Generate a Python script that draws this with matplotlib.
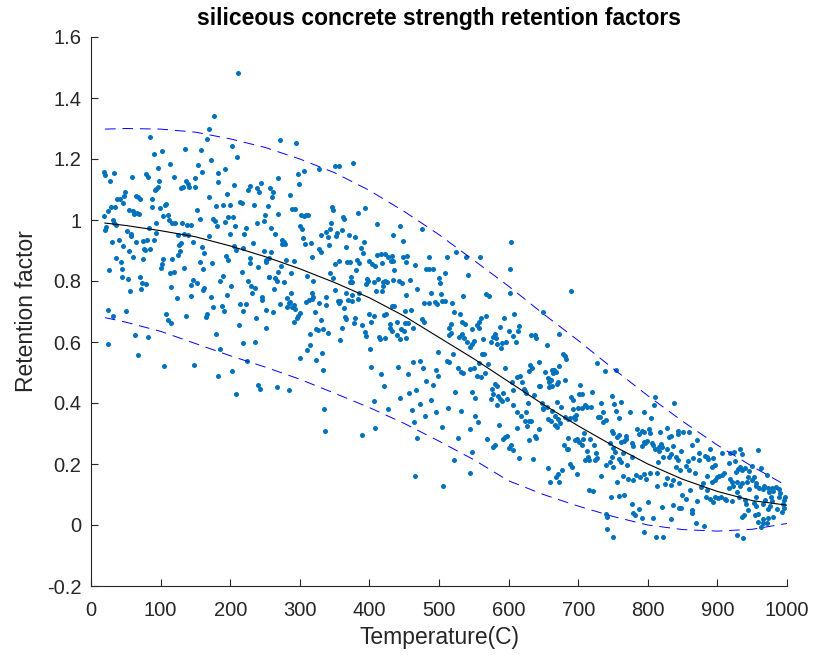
import numpy as np
import matplotlib.pyplot as plt

plt.rcParams['font.family'] = ['Liberation Sans', 'DejaVu Sans']

# measured retention factors (temperature in C, retention factor), grouped by temperature band
pts_a = [(211, 1.481), (177, 1.341), (170, 1.297), (167, 1.267), (85, 1.271), (203, 1.243), (210, 1.208),
         (173, 1.196), (90, 1.216), (102, 1.225), (135, 1.232), (158, 1.231), (113, 1.183), (154, 1.179),
         (96, 1.170), (18, 1.156), (20, 1.148), (33, 1.155), (183, 1.155), (192, 1.166), (160, 1.158),
         (79, 1.150), (82, 1.140), (59, 1.142), (119, 1.142), (27, 1.128), (97, 1.128), (137, 1.128),
         (149, 1.138), (182, 1.125), (206, 1.114), (140, 1.117), (141, 1.109), (129, 1.105), (132, 1.109),
         (150, 1.107), (229, 1.113), (238, 1.106), (244, 1.120), (257, 1.105), (94, 1.102), (96, 1.108),
         (92, 1.098), (49, 1.092), (48, 1.078), (225, 1.097), (241, 1.093), (195, 1.085), (65, 1.079),
         (68, 1.074), (71, 1.068), (38, 1.070), (42, 1.068), (88, 1.068), (169, 1.075), (46, 1.057),
         (108, 1.053), (107, 1.048), (179, 1.047), (190, 1.050), (199, 1.050), (214, 1.058), (217, 1.057),
         (234, 1.048), (255, 1.046), (29, 1.042), (35, 1.042), (25, 1.029), (87, 1.042), (99, 1.038),
         (54, 1.034), (62, 1.021), (66, 1.023), (69, 1.021), (60, 1.029), (152, 1.033), (18, 1.012),
         (103, 1.014), (110, 1.015), (157, 1.004), (175, 1.004), (178, 0.996), (197, 1.011), (204, 1.011),
         (250, 1.015), (31, 0.999), (33, 0.991), (112, 1.000), (117, 0.991), (121, 0.989), (131, 0.990),
         (36, 0.985), (93, 0.991), (138, 0.983), (144, 0.983), (181, 0.981), (193, 0.993), (207, 0.979),
         (222, 0.975), (239, 0.989), (249, 0.996), (22, 0.976), (20, 0.967), (52, 0.964), (57, 0.953),
         (58, 0.948), (83, 0.975), (94, 0.957), (170, 0.948), (200, 0.953), (220, 0.954), (125, 0.952),
         (134, 0.955), (140, 0.951)]

pts_b = [(40, 0.936), (30, 0.927), (46, 0.916), (64, 0.929), (75, 0.932), (81, 0.933), (78, 0.902),
         (76, 0.905), (85, 0.905), (91, 0.934), (130, 0.926), (127, 0.917), (128, 0.898), (125, 0.885),
         (147, 0.927), (159, 0.911), (163, 0.891), (205, 0.916), (208, 0.902), (218, 0.908), (233, 0.925),
         (248, 0.899), (252, 0.869), (251, 0.863), (256, 0.876), (36, 0.876), (60, 0.878), (43, 0.863),
         (54, 0.899), (74, 0.872), (104, 0.872), (102, 0.857), (101, 0.844), (116, 0.871), (156, 0.863),
         (174, 0.858), (194, 0.881), (197, 0.870), (228, 0.875), (229, 0.858), (240, 0.845), (26, 0.836),
         (44, 0.839), (114, 0.827), (119, 0.828), (133, 0.843), (161, 0.840), (217, 0.828), (45, 0.813),
         (53, 0.808), (70, 0.814), (73, 0.794), (79, 0.789), (72, 0.774), (56, 0.767), (115, 0.781),
         (146, 0.802), (143, 0.788), (152, 0.793), (162, 0.778), (161, 0.771), (186, 0.800), (189, 0.816),
         (201, 0.783), (226, 0.799), (230, 0.785), (236, 0.776), (232, 0.762), (256, 0.812), (124, 0.745),
         (144, 0.750), (172, 0.749), (196, 0.753), (245, 0.749), (246, 0.738), (175, 0.715), (188, 0.717),
         (191, 0.701), (214, 0.724), (223, 0.724), (219, 0.703), (252, 0.705), (24, 0.704), (50, 0.701),
         (32, 0.686), (108, 0.693), (111, 0.672), (115, 0.661), (136, 0.685), (166, 0.692), (165, 0.681),
         (237, 0.679), (212, 0.657), (251, 0.645), (63, 0.622), (82, 0.615), (180, 0.627), (24, 0.592),
         (219, 0.598), (235, 0.601), (185, 0.577), (67, 0.557), (224, 0.539), (105, 0.522), (148, 0.524),
         (202, 0.504), (183, 0.488), (240, 0.459), (243, 0.446), (209, 0.430)]

pts_c = [(271, 1.261), (295, 1.251), (376, 1.188), (350, 1.177), (356, 1.177), (327, 1.168), (306, 1.160),
         (297, 1.152), (269, 1.138), (262, 1.092), (260, 1.075), (299, 1.118), (286, 1.082), (289, 1.036),
         (293, 1.035), (268, 1.020), (258, 0.975), (264, 0.955), (302, 1.015), (306, 1.013), (309, 1.015),
         (312, 1.017), (301, 0.980), (303, 0.971), (305, 0.942), (346, 1.043), (347, 1.033), (362, 1.009),
         (363, 1.002), (345, 0.989), (343, 0.971), (338, 0.960), (340, 0.943), (331, 0.950), (354, 0.959),
         (352, 0.948), (361, 0.966), (370, 0.950), (380, 0.944), (394, 1.040), (384, 1.024), (411, 0.987),
         (444, 0.979), (434, 0.950), (475, 0.970),
         (335, 0.380), (336, 0.307), (390, 0.296), (408, 0.317), (407, 0.406), (427, 0.380), (461, 0.376),
         (472, 0.398), (464, 0.337), (480, 0.357), (496, 0.371), (468, 0.286), (466, 0.161)]

pts_d = [(275, 0.934), (277, 0.928), (274, 0.921), (279, 0.920), (308, 0.920), (316, 0.924), (342, 0.917),
         (366, 0.913), (388, 0.907), (392, 0.927), (448, 0.931), (328, 0.905), (330, 0.895), (259, 0.895),
         (291, 0.867), (280, 0.870), (317, 0.879), (391, 0.892), (411, 0.884), (417, 0.890), (423, 0.890),
         (427, 0.880), (431, 0.867), (434, 0.866), (433, 0.881), (448, 0.879), (452, 0.862), (454, 0.881),
         (485, 0.879), (382, 0.870), (385, 0.858), (368, 0.861), (372, 0.861), (357, 0.865), (350, 0.855),
         (399, 0.867), (404, 0.857), (408, 0.848), (418, 0.858), (465, 0.852), (481, 0.839), (486, 0.840),
         (492, 0.840), (273, 0.850), (268, 0.830), (264, 0.809), (267, 0.800), (256, 0.812), (277, 0.797),
         (288, 0.826), (311, 0.816), (319, 0.801), (344, 0.827), (348, 0.811), (373, 0.812), (372, 0.797),
         (375, 0.798), (381, 0.837), (397, 0.806), (398, 0.800), (395, 0.791), (406, 0.796), (412, 0.808),
         (419, 0.796), (422, 0.800), (436, 0.835), (426, 0.797), (434, 0.802), (442, 0.800), (447, 0.792),
         (459, 0.803), (500, 0.811), (501, 0.794), (263, 0.775), (287, 0.760), (281, 0.744), (318, 0.760),
         (337, 0.747), (351, 0.770), (367, 0.760), (375, 0.755), (385, 0.762), (409, 0.766), (418, 0.766),
         (419, 0.784), (453, 0.753), (469, 0.773), (489, 0.760), (261, 0.699), (272, 0.726), (281, 0.714),
         (284, 0.727), (286, 0.730), (291, 0.720), (293, 0.707), (289, 0.714), (309, 0.732), (313, 0.738),
         (317, 0.741), (319, 0.749), (327, 0.729), (337, 0.720), (355, 0.734), (358, 0.735), (356, 0.727),
         (364, 0.712), (369, 0.739), (375, 0.735), (383, 0.740), (400, 0.692), (406, 0.685), (421, 0.688),
         (424, 0.693), (432, 0.718), (436, 0.719), (451, 0.701), (460, 0.704), (479, 0.729), (485, 0.727),
         (494, 0.732), (497, 0.726), (300, 0.694), (297, 0.685), (296, 0.680), (292, 0.667), (322, 0.697),
         (330, 0.673), (323, 0.643), (326, 0.638), (333, 0.642), (341, 0.631), (315, 0.626), (365, 0.681),
         (367, 0.674), (360, 0.645), (378, 0.662), (380, 0.680), (389, 0.656), (393, 0.634), (395, 0.621),
         (402, 0.665), (414, 0.617), (415, 0.609), (422, 0.614), (429, 0.659), (429, 0.647), (433, 0.637),
         (439, 0.666), (440, 0.623), (444, 0.610), (449, 0.635), (451, 0.661), (455, 0.663), (453, 0.612),
         (445, 0.643), (463, 0.647), (476, 0.674), (478, 0.667), (358, 0.607), (314, 0.589), (310, 0.573),
         (300, 0.549), (323, 0.541), (332, 0.563), (334, 0.507), (401, 0.577), (403, 0.518), (441, 0.519),
         (416, 0.495), (462, 0.536), (473, 0.539), (477, 0.514), (456, 0.495), (495, 0.507), (499, 0.489),
         (482, 0.473), (492, 0.460), (421, 0.456), (467, 0.442), (457, 0.434), (444, 0.415), (488, 0.410),
         (267, 0.453), (284, 0.444)]

pts_e = [(604, 0.927), (512, 0.879), (524, 0.895), (539, 0.880), (559, 0.879), (602, 0.838), (509, 0.826),
         (541, 0.819), (503, 0.758), (535, 0.752), (567, 0.756), (572, 0.750), (602, 0.761), (689, 0.768),
         (505, 0.735), (508, 0.734), (519, 0.727), (522, 0.698), (530, 0.692), (568, 0.685), (593, 0.678),
         (608, 0.691), (650, 0.699), (561, 0.678)]

pts_f = [(517, 0.659), (514, 0.645), (517, 0.628), (515, 0.623), (533, 0.667), (537, 0.659), (548, 0.643),
         (555, 0.656), (558, 0.667), (557, 0.645), (533, 0.626), (529, 0.615), (536, 0.612), (540, 0.599),
         (547, 0.593), (550, 0.604), (545, 0.585), (563, 0.609), (574, 0.599), (578, 0.617), (581, 0.626),
         (582, 0.612), (587, 0.649), (584, 0.592), (589, 0.581), (591, 0.598), (600, 0.635), (596, 0.599),
         (611, 0.599), (615, 0.653), (614, 0.637), (606, 0.619), (632, 0.623), (638, 0.623), (639, 0.614),
         (672, 0.625), (655, 0.589), (498, 0.566), (520, 0.560), (511, 0.538), (514, 0.535), (528, 0.514),
         (531, 0.503), (535, 0.499), (544, 0.510), (550, 0.516), (558, 0.530), (564, 0.560), (562, 0.561),
         (571, 0.527), (566, 0.499), (561, 0.486), (554, 0.489), (595, 0.515), (605, 0.469), (612, 0.484),
         (619, 0.468), (617, 0.489), (631, 0.525), (633, 0.514), (629, 0.506), (643, 0.535), (652, 0.501),
         (656, 0.483), (662, 0.508), (664, 0.497), (665, 0.508), (658, 0.470), (658, 0.452), (661, 0.474),
         (662, 0.457), (668, 0.501), (670, 0.461), (671, 0.470), (681, 0.475), (678, 0.560), (681, 0.554),
         (683, 0.544), (673, 0.522), (727, 0.531), (738, 0.506), (523, 0.437), (547, 0.435), (552, 0.418),
         (575, 0.412), (578, 0.430), (585, 0.422), (592, 0.433), (591, 0.407), (588, 0.414), (584, 0.393),
         (598, 0.414), (576, 0.445), (583, 0.457), (580, 0.462), (606, 0.444), (622, 0.447), (623, 0.440),
         (625, 0.434), (628, 0.401), (637, 0.426), (643, 0.457), (645, 0.456), (648, 0.399), (650, 0.384),
         (655, 0.388), (649, 0.379), (670, 0.404), (675, 0.386), (663, 0.375), (666, 0.358), (657, 0.348),
         (661, 0.342), (671, 0.349), (681, 0.353), (674, 0.333), (669, 0.320), (666, 0.329), (685, 0.348),
         (689, 0.419), (693, 0.410), (701, 0.431), (705, 0.431), (702, 0.460), (692, 0.380), (688, 0.352),
         (694, 0.355), (697, 0.362), (695, 0.348), (700, 0.385), (705, 0.383), (720, 0.435), (710, 0.392),
         (712, 0.386), (718, 0.386), (728, 0.353), (732, 0.355), (736, 0.339), (740, 0.344), (733, 0.400),
         (736, 0.371), (709, 0.301), (707, 0.283), (717, 0.281), (705, 0.262), (698, 0.282), (695, 0.279),
         (701, 0.272), (685, 0.286), (686, 0.248), (680, 0.262), (684, 0.249), (712, 0.243), (714, 0.224),
         (710, 0.213), (715, 0.213), (723, 0.262), (725, 0.237), (727, 0.221), (724, 0.213), (740, 0.197),
         (733, 0.160), (688, 0.199), (691, 0.190), (677, 0.180), (698, 0.168), (668, 0.158), (671, 0.167),
         (656, 0.188), (660, 0.141), (673, 0.141), (716, 0.115), (721, 0.112), (635, 0.216), (615, 0.220),
         (630, 0.278), (638, 0.293), (640, 0.285), (643, 0.315), (627, 0.326), (623, 0.340), (629, 0.342),
         (632, 0.342), (618, 0.356), (625, 0.370), (612, 0.319), (606, 0.394), (600, 0.252), (603, 0.263),
         (607, 0.247), (592, 0.283), (595, 0.288), (598, 0.292), (578, 0.255), (581, 0.262), (586, 0.327),
         (569, 0.283), (612, 0.371), (548, 0.240), (552, 0.358), (556, 0.338), (544, 0.315), (527, 0.284),
         (532, 0.375), (513, 0.384), (505, 0.322), (522, 0.213), (545, 0.170), (506, 0.128)]

pts_g = [(754, 0.507), (748, 0.423), (811, 0.420), (752, 0.397), (761, 0.402), (838, 0.401), (809, 0.393),
         (755, 0.373), (774, 0.370), (795, 0.370), (759, 0.350), (804, 0.352), (749, 0.309), (750, 0.301),
         (758, 0.296), (756, 0.290), (768, 0.293), (769, 0.281), (766, 0.274), (785, 0.316), (788, 0.298),
         (791, 0.307), (795, 0.304), (802, 0.316), (803, 0.301), (818, 0.305), (827, 0.319), (834, 0.293),
         (843, 0.307), (850, 0.305), (844, 0.297), (859, 0.306), (871, 0.280), (863, 0.262), (889, 0.250),
         (924, 0.239), (932, 0.250), (936, 0.233), (917, 0.202), (925, 0.210), (929, 0.184), (932, 0.191),
         (927, 0.175), (935, 0.180), (940, 0.186), (949, 0.193), (963, 0.186), (945, 0.178), (761, 0.273),
         (750, 0.253), (746, 0.268), (777, 0.268), (779, 0.260), (794, 0.273), (796, 0.268), (799, 0.275),
         (791, 0.260), (806, 0.268), (808, 0.261), (810, 0.248), (816, 0.244), (819, 0.267), (821, 0.256),
         (816, 0.257), (831, 0.289), (827, 0.248), (833, 0.234), (836, 0.260), (841, 0.223), (843, 0.213),
         (830, 0.222), (848, 0.243), (858, 0.211), (865, 0.221), (873, 0.214), (873, 0.235), (882, 0.225),
         (885, 0.223), (887, 0.217), (894, 0.219), (897, 0.197), (892, 0.191), (907, 0.235), (918, 0.235),
         (959, 0.246), (971, 0.163), (944, 0.158), (949, 0.148), (953, 0.157), (955, 0.139), (942, 0.141),
         (945, 0.117), (956, 0.129), (960, 0.122), (965, 0.117), (967, 0.128), (972, 0.121), (974, 0.108),
         (980, 0.110), (979, 0.120), (984, 0.124), (988, 0.117), (990, 0.106), (989, 0.092), (997, 0.092),
         (996, 0.082), (994, 0.069), (996, 0.055), (993, 0.043), (985, 0.052), (980, 0.027), (973, 0.022),
         (971, 0.006), (966, 0.008), (965, 0.020), (959, 0.011), (963, -0.005), (977, 0.093), (979, 0.080),
         (976, 0.062), (969, 0.082), (965, 0.069), (972, 0.052), (955, 0.062), (953, 0.073), (956, 0.091),
         (939, 0.082), (941, 0.069), (944, 0.050), (954, 0.033), (959, 0.035), (938, 0.033), (936, 0.027),
         (928, -0.032), (937, -0.043), (881, -0.003), (869, 0.006), (822, -0.038), (812, -0.038),
         (794, -0.023), (750, -0.039), (742, -0.014), (833, 0.019), (807, 0.024), (791, 0.023), (781, 0.032),
         (779, 0.038), (787, 0.052), (777, 0.068), (801, 0.076), (820, 0.060), (836, 0.066), (845, 0.055),
         (848, 0.055), (864, 0.049), (864, 0.040), (855, 0.084), (849, 0.098), (861, 0.115), (870, 0.078),
         (883, 0.093), (889, 0.085), (894, 0.076), (897, 0.093), (901, 0.088), (905, 0.093), (911, 0.085),
         (877, 0.126), (885, 0.115), (892, 0.142), (896, 0.148), (899, 0.158), (903, 0.161), (906, 0.165),
         (910, 0.170), (885, 0.161), (880, 0.137), (918, 0.151), (921, 0.141), (923, 0.128), (917, 0.120),
         (928, 0.142), (932, 0.129), (936, 0.137), (928, 0.108), (931, 0.093), (921, 0.079), (913, 0.082),
         (841, 0.191), (846, 0.181), (859, 0.180), (855, 0.193), (868, 0.170), (827, 0.154), (836, 0.148),
         (845, 0.139), (834, 0.132), (824, 0.134), (813, 0.128), (813, 0.170), (803, 0.171), (815, 0.206),
         (822, 0.224), (794, 0.167), (789, 0.158), (797, 0.151), (779, 0.148), (783, 0.164), (770, 0.197),
         (762, 0.208), (777, 0.222), (759, 0.217), (765, 0.235), (749, 0.224), (753, 0.240), (750, 0.191),
         (746, 0.208), (764, 0.161), (756, 0.142), (771, 0.151), (747, 0.093), (758, 0.096), (766, 0.098),
         (740, 0.036), (742, 0.027)]

# fitted mean curve and upper / lower bounds
curve_t = [20, 50, 100, 150, 200, 250, 300, 350, 400, 450, 500, 550, 600, 650, 700, 750, 800, 850, 900, 950, 1000]
mean_r = [0.99, 0.982, 0.965, 0.945, 0.915, 0.88, 0.84, 0.795, 0.745, 0.685, 0.615, 0.545, 0.47, 0.395,
          0.325, 0.26, 0.20, 0.15, 0.11, 0.08, 0.065]
upper_r = [1.298, 1.30, 1.298, 1.288, 1.266, 1.238, 1.20, 1.155, 1.097, 1.028, 0.952, 0.868, 0.783, 0.692,
           0.605, 0.513, 0.424, 0.340, 0.262, 0.192, 0.128]
lower_r = [0.68, 0.665, 0.635, 0.595, 0.555, 0.518, 0.478, 0.432, 0.385, 0.333, 0.275, 0.214, 0.145, 0.10,
           0.062, 0.028, 0.0, -0.015, -0.02, -0.014, 0.005]

yticks = [-0.2, 0, 0.2, 0.4, 0.6, 0.8, 1.0, 1.2, 1.4, 1.6]
ytick_labels = ['-0.2', '0', '0.2', '0.4', '0.6', '0.8', '1', '1.2', '1.4', '1.6']

pts = np.array(pts_a + pts_b + pts_c + pts_d + pts_e + pts_f + pts_g)

fig = plt.figure(figsize=(8.15, 6.56), dpi=100)
ax = fig.add_axes([91 / 815, 70 / 656, 696 / 815, 549 / 656])

ax.scatter(pts[:, 0], pts[:, 1], s=13, color='#0072BD', linewidths=0, zorder=2)
ax.plot(curve_t, mean_r, color='black', lw=0.8, zorder=3)
ax.plot(curve_t, upper_r, color='blue', lw=0.7, ls=(0, (11, 7)), zorder=3)
ax.plot(curve_t, lower_r, color='blue', lw=0.7, ls=(0, (11, 7)), zorder=3)

ax.set_xlim(0, 1000)
ax.set_ylim(-0.2, 1.6)
ax.set_xticks(np.arange(0, 1001, 100))
ax.set_yticks(yticks)
ax.set_yticklabels(ytick_labels)

grey = '#262626'
for side in ['top', 'right']:
    ax.spines[side].set_visible(False)
for side in ['left', 'bottom']:
    ax.spines[side].set_color(grey)
    ax.spines[side].set_linewidth(0.8)
ax.tick_params(direction='in', length=5, width=0.8, colors=grey, labelsize=14.5)
ax.tick_params(axis='x', pad=11)
ax.tick_params(axis='y', pad=7)

ax.set_xlabel('Temperature(C)', fontsize=16.5, color=grey, labelpad=4)
ax.set_ylabel('Retention factor', fontsize=16.5, color=grey, labelpad=6)
ax.set_title('siliceous concrete strength retention factors', fontsize=16.5, fontweight='bold', pad=9)

fig.savefig('out.png', dpi=100)
